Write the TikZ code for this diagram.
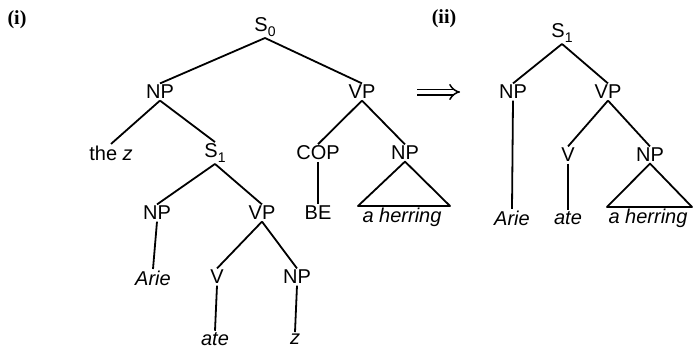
\documentclass[tikz,border=0pt]{standalone}
\usepackage{fontspec}
\setmainfont{Liberation Sans}
\newfontfamily\tagfont{Liberation Serif}
\usetikzlibrary{calc,arrows.meta}
\newcommand\subsc[1]{\raisebox{-4.5pt}{\fontsize{14}{14}\selectfont #1}}
\begin{document}
\begin{tikzpicture}[x=1pt,y=-1pt,
  lab/.style={font=\fontsize{20}{20}\selectfont, inner sep=1.5pt},
  leaf/.style={font=\fontsize{20}{20}\selectfont\itshape, inner sep=1.5pt},
  edge/.style={line width=1.8pt, line join=round},
  tag/.style={font=\tagfont\bfseries\fontsize{20}{20}\selectfont, inner sep=0pt}]
\useasboundingbox (0,0) rectangle (695,348);
% labels
\node[tag] (ti) at (17,20) {(i)};
\node[tag] (tii) at (444,19) {(ii)};
% tree (i)
\node[lab] (s0) at (265,27) {S\subsc{0}};
\node[lab] (np1) at (160,92) {NP};
\node[lab] (vp1) at (362,92) {VP};
\node[lab] (thez) at (111,153) {the \textit{z}};
\node[lab] (s1) at (215,153) {S\subsc{1}};
\node[lab] (cop) at (318,153) {COP};
\node[lab] (np2) at (405,153) {NP};
\node[lab] (np3) at (157,213) {NP};
\node[lab] (vp2) at (262,213) {VP};
\node[lab] (be) at (318,213) {BE};
\node[leaf] (her1) at (402,217) {a herring};
\node[leaf] (arie1) at (153,278) {Arie};
\node[lab] (v1) at (217,277) {V};
\node[lab] (np4) at (297,277) {NP};
\node[leaf] (ate1) at (215,339) {ate};
\node[leaf] (z1) at (295,339) {z};
\draw[edge] (s0.south) -- (np1.north);
\draw[edge] (s0.south) -- (vp1.north);
\draw[edge] (np1.south) -- (thez.north);
\draw[edge] (np1.south) -- (s1.north);
\draw[edge] (vp1.south) -- (cop.north);
\draw[edge] (vp1.south) -- (np2.north);
\draw[edge] (cop.south) -- (be.north);
\draw[edge] (np2.south) -- ($(her1.north)+(-44,0)$) -- ($(her1.north)+(48,0)$) -- cycle;
\draw[edge] (s1.south) -- (np3.north);
\draw[edge] (s1.south) -- (vp2.north);
\draw[edge] (np3.south) -- (arie1.north);
\draw[edge] (vp2.south) -- (v1.north);
\draw[edge] (vp2.south) -- (np4.north);
\draw[edge] (v1.south) -- (ate1.north);
\draw[edge] (np4.south) -- (z1.north);
% arrow
\coordinate (a1) at (417,92);
\coordinate (a2) at (460,92);
\draw[line width=1.5pt, double distance=4pt, -{Implies}] (a1) -- (a2);
% tree (ii)
\node[lab] (s1b) at (562,33) {S\subsc{1}};
\node[lab] (np5) at (513,92) {NP};
\node[lab] (vp3) at (608,92) {VP};
\node[lab] (v2) at (568,155) {V};
\node[lab] (np6) at (650,155) {NP};
\node[leaf] (arie2) at (512,218) {Arie};
\node[leaf] (ate2) at (568,218) {ate};
\node[leaf] (her2) at (648,218) {a herring};
\draw[edge] (s1b.south) -- (np5.north);
\draw[edge] (s1b.south) -- (vp3.north);
\draw[edge] (np5.south) -- (arie2.north);
\draw[edge] (vp3.south) -- (v2.north);
\draw[edge] (vp3.south) -- (np6.north);
\draw[edge] (v2.south) -- (ate2.north);
\draw[edge] (np6.south) -- ($(her2.north)+(-41,0)$) -- ($(her2.north)+(44,0)$) -- cycle;
\end{tikzpicture}
\end{document}
